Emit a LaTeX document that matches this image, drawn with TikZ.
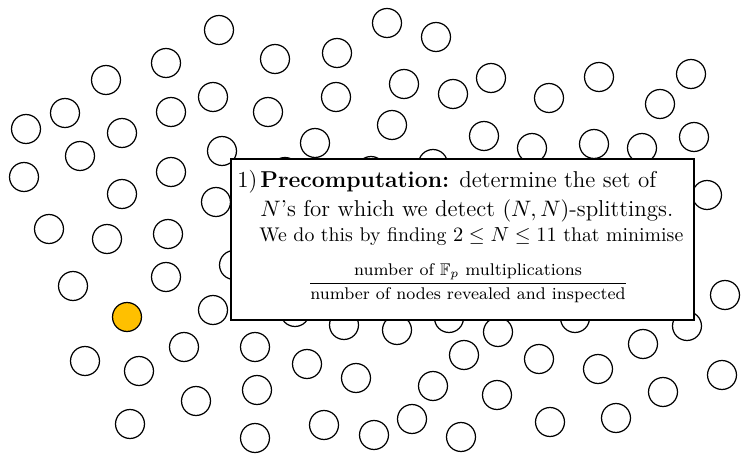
\documentclass[tikz,border=0pt]{standalone}
\usepackage{amsmath,amssymb}
\usepackage{tikz}

\definecolor{startorange}{HTML}{FFC000}

\begin{document}
\begin{tikzpicture}[x=0.49pt, y=-0.49pt,
    vertex/.style={circle, draw, line width=0.6pt, minimum size=14.2pt, inner sep=0pt, fill=white},
    textline/.style={anchor=base west, inner sep=0pt, font=\fontsize{11.25}{13.6}\selectfont}]
      \useasboundingbox (0,0) rectangle (741,454);

      % nodes of the graph (pixel positions)
      \foreach \px/\py [count=\i] in {
          219/30, 166/63, 106/80, 65/113, 26/129, 122/133, 171/112, 213/97,
          222/151, 80/156, 24/177, 171/172, 122/194, 216/202, 49/229, 107/239,
          168/234, 387/23, 436/37, 275/59, 337/53, 404/84, 453/94, 491/78,
          268/112, 336/97, 392/125, 315/143, 484/136, 549/98, 599/77, 691/74,
          660/104, 532/148, 594/144, 642/148, 694/137, 707/195, 285/172, 371/171,
          433/164, 234/265, 73/286, 166/277, 213/310, 85/361, 184/347, 139/371,
          255/347, 196/401, 257/390, 130/424, 255/438, 295/312, 344/325, 397/330,
          449/318, 307/364, 356/378, 464/355, 433/386, 324/425, 374/435, 412/419,
          461/437, 498/332, 575/318, 643/344, 687/326, 725/295, 539/359, 598/369,
          497/395, 663/392, 722/375, 550/422, 616/418}
        \node[vertex] (c\i) at (\px,\py) {};
      \node[vertex, fill=startorange] (start) at (127,317) {};

      % the text box on top
      \node[draw, fill=white, line width=1pt, inner sep=0pt,
            minimum width=226.9pt, minimum height=78.9pt] (box) at (462.5,239.5) {};

      \node[textline] (item) at (237,188) {1)};
      \node[textline] (line1) at (260,188) {\textbf{Precomputation:} determine the set of};
      \node[textline] (line2) at (260,217) {$N$'s for which we detect $(N,N)$-splittings.};
      \node[textline, font=\fontsize{9.7}{12}\selectfont] (line3) at (259,242)
        {We do this by finding $2 \leq N \leq 11$ that minimise};
      \node[anchor=base, inner sep=0pt, font=\fontsize{8.3}{10}\selectfont] (ratio) at (468,287)
        {$\dfrac{\text{number of $\mathbb{F}_p$ multiplications}}{\text{number of nodes revealed and inspected}}$};
    \end{tikzpicture}
\end{document}
